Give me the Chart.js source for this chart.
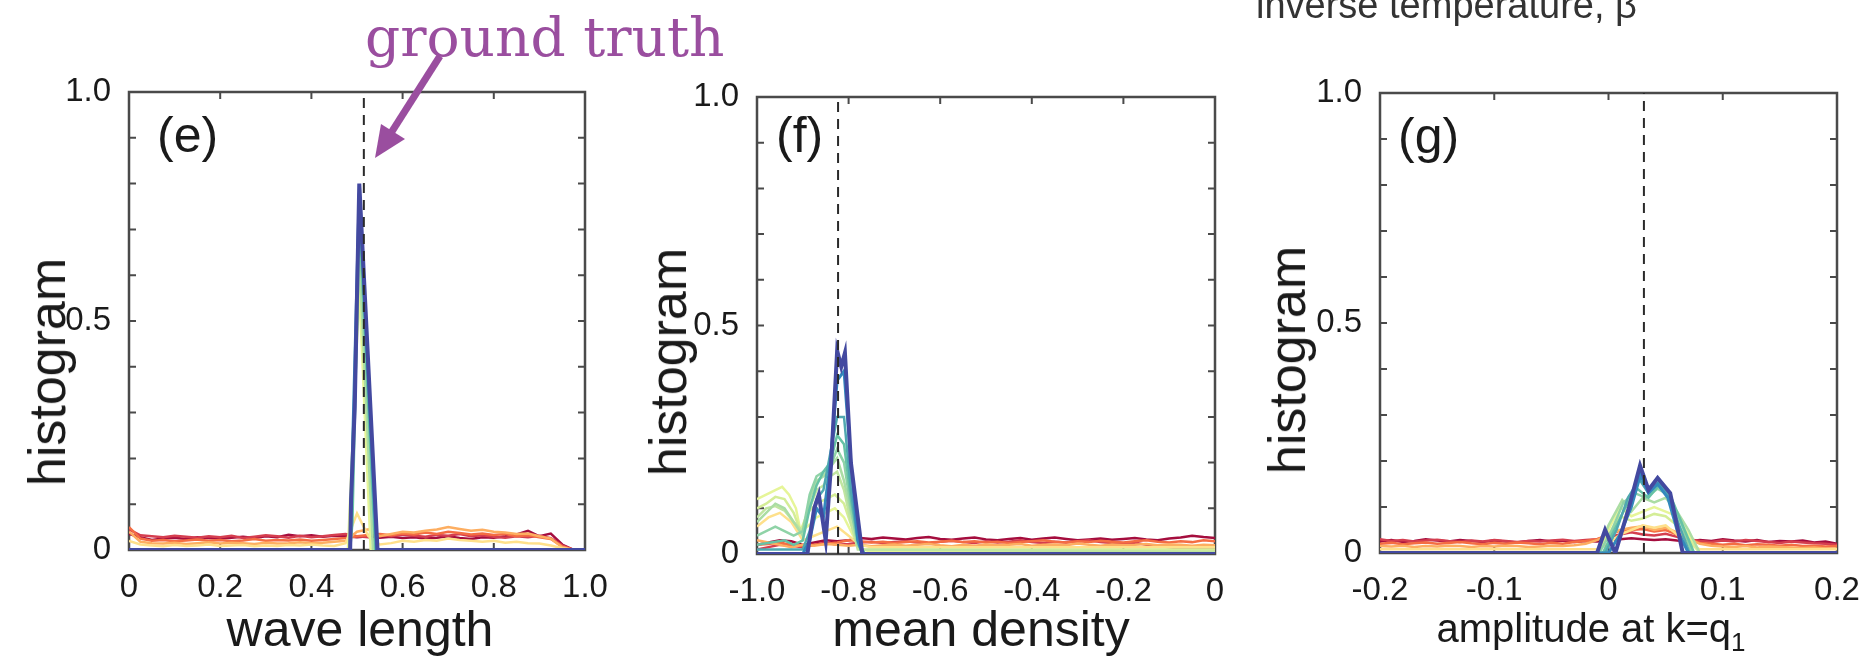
<!DOCTYPE html>
<html><head><meta charset="utf-8">
<script src="https://cdn.jsdelivr.net/npm/chart.js@4.4.0/dist/chart.umd.min.js"></script>
<style>
html,body{margin:0;padding:0;background:#fff;width:1876px;height:659px;overflow:hidden;}
#wrap{position:relative;width:1876px;height:659px;}
canvas{position:absolute;top:0;}
.t{position:absolute;white-space:nowrap;font-family:"Liberation Sans",Arial,sans-serif;color:#1a1a1a;line-height:1;}
.c{transform:translateX(-50%);}
.r{transform:translate(-50%,-50%) rotate(-90deg);}
svg{position:absolute;left:0;top:0;}
</style></head>
<body><div id="wrap">
<canvas id="ce" width="620" height="659" style="left:0px"></canvas>
<canvas id="cf" width="600" height="659" style="left:640px"></canvas>
<canvas id="cg" width="616" height="659" style="left:1260px"></canvas>

<div class="t" style="left:1256px;top:-14px;font-size:38px;color:#333;">inverse temperature, β</div>
<div class="t" style="left:365px;top:10px;font-size:55px;font-family:'DejaVu Serif',serif;color:#9a4e9f;">ground truth</div>

<div class="t" style="left:157px;top:110px;font-size:50px;">(e)</div>
<div class="t" style="left:776px;top:110px;font-size:50px;">(f)</div>
<div class="t" style="left:1398px;top:111px;font-size:50px;">(g)</div>

<div class="t r" style="left:47px;top:372px;font-size:52px;">histogram</div>
<div class="t r" style="left:668px;top:362px;font-size:52px;">histogram</div>
<div class="t r" style="left:1287px;top:360px;font-size:52px;">histogram</div>

<div class="t c" style="left:360px;top:604px;font-size:50px;">wave length</div>
<div class="t c" style="left:981px;top:604px;font-size:50px;">mean density</div>
<div class="t c" style="left:1591px;top:608px;font-size:40px;">amplitude at k=q<span style="font-size:0.65em;position:relative;top:0.35em;">1</span></div>

<svg width="1876" height="659">
  <line x1="440" y1="56" x2="391" y2="133" stroke="#9a4e9f" stroke-width="7"/>
  <polygon points="375,158 381,124 405,139" fill="#9a4e9f"/>
</svg>
</div>
<script>
// ---------- shared ----------
const C = {
  dred: '#a50d3e', red: '#d53e4f', orng: '#f46d43', lorg: '#fdae61', yel: '#fee08b',
  pale: '#e6f598', ygrn: '#d4ed97', lgrn2: '#c0e5a0', lgrn: '#abdda4', mgrn: '#8fd3a7',
  teal: '#66c2a5', cyan: '#4fa8b0', blue: '#3288bd', navy: '#4349a0'
};
const Y_LABELS = ['0','','','','','0.5','','','','','1.0'];

// ---------- panel (e): wave length ----------
const E_TICKS = ['0','0.2','0.4','0.6','0.8','1.0'];
const E_TRUTH = 0.515;
const E_X = [0,0.025,0.05,0.075,0.1,0.125,0.15,0.175,0.2,0.225,0.25,0.275,0.3,0.325,0.35,0.375,0.4,0.425,0.45,0.475,0.5,0.525,0.55,0.575,0.6,0.625,0.65,0.675,0.7,0.725,0.75,0.775,0.8,0.825,0.85,0.875,0.9,0.925,0.95,0.975,1.0];
const E_N0 = [0.035,0.028,0.022,0.025,0.027,0.024,0.028,0.026,0.025,0.027,0.029,0.026,0.03,0.028,0.033,0.03,0.032,0.029,0.031,0.03,0.028,0.03,0.027,0.029,0.026,0.028,0.025,0.027,0.03,0.026,0.024,0.028,0.027,0.03,0.034,0.042,0.03,0.036,0.012,0,0];
const E_N1 = [0.045,0.032,0.03,0.028,0.031,0.029,0.027,0.03,0.028,0.031,0.026,0.029,0.032,0.03,0.027,0.031,0.028,0.03,0.033,0.035,0.03,0.028,0.032,0.03,0.034,0.031,0.029,0.033,0.031,0.035,0.03,0.032,0.029,0.027,0.03,0.028,0.031,0.026,0.01,0,0];
const E_N2 = [0.05,0.025,0.02,0.022,0.019,0.021,0.023,0.02,0.022,0.019,0.021,0.024,0.02,0.022,0.021,0.023,0.02,0.022,0.024,0.026,0.03,0.033,0.035,0.032,0.036,0.034,0.038,0.035,0.04,0.037,0.034,0.036,0.033,0.035,0.03,0.032,0.028,0.024,0.008,0,0];
const E_N3 = [0.04,0.018,0.015,0.014,0.016,0.013,0.015,0.017,0.014,0.016,0.015,0.013,0.016,0.014,0.015,0.017,0.015,0.016,0.018,0.02,0.04,0.045,0.03,0.035,0.04,0.038,0.042,0.045,0.05,0.046,0.042,0.044,0.04,0.038,0.035,0.036,0.03,0.025,0.006,0,0];
const E_N4 = [0.02,0.012,0.01,0.008,0.011,0.009,0.01,0.012,0.009,0.01,0.011,0.008,0.01,0.009,0.011,0.01,0.012,0.01,0.009,0.015,0.08,0.03,0.012,0.015,0.02,0.018,0.022,0.02,0.025,0.022,0.02,0.018,0.02,0.016,0.018,0.015,0.014,0.01,0.004,0,0];
const E_P5_X = [0,0.48,0.505,0.53,1.0];             const E_P5_Y = [0,0,0.57,0,0];
const E_P6_X = [0,0.485,0.505,0.535,1.0];           const E_P6_Y = [0,0,0.64,0,0];
const E_P7_X = [0,0.485,0.49,0.505,0.54,1.0];       const E_P7_Y = [0,0,0.06,0.72,0,0];
const E_P8_X = [0,0.485,0.487,0.505,0.543,1.0];     const E_P8_Y = [0,0,0.1,0.78,0,0];
const E_P9_X = [0,0.485,0.487,0.495,0.505,0.545,1.0]; const E_P9_Y = [0,0,0.11,0.31,0.8,0,0];

// ---------- panel (f): mean density ----------
const F_TICKS = ['-1.0','-0.8','-0.6','-0.4','-0.2','0'];
const F_TRUTH = -0.823;
const F_X = [-1,-0.975,-0.95,-0.925,-0.9,-0.875,-0.85,-0.825,-0.8,-0.775,-0.75,-0.725,-0.7,-0.675,-0.65,-0.625,-0.6,-0.575,-0.55,-0.525,-0.5,-0.475,-0.45,-0.425,-0.4,-0.375,-0.35,-0.325,-0.3,-0.275,-0.25,-0.225,-0.2,-0.175,-0.15,-0.125,-0.1,-0.075,-0.05,-0.025,0];
const F_N0 = [0.02,0.025,0.03,0.028,0.02,0.025,0.03,0.028,0.03,0.035,0.033,0.036,0.034,0.032,0.035,0.037,0.033,0.031,0.034,0.036,0.032,0.03,0.033,0.035,0.031,0.034,0.036,0.033,0.03,0.032,0.034,0.031,0.033,0.035,0.032,0.03,0.034,0.036,0.04,0.037,0.035];
const F_N1 = [0.01,0.015,0.02,0.018,0.015,0.02,0.025,0.02,0.022,0.025,0.027,0.024,0.026,0.028,0.025,0.023,0.027,0.029,0.026,0.024,0.028,0.025,0.027,0.03,0.026,0.024,0.027,0.025,0.028,0.03,0.026,0.024,0.022,0.025,0.02,0.018,0.015,0.012,0.014,0.012,0.01];
const F_N2 = [0.02,0.022,0.025,0.02,0.018,0.02,0.022,0.025,0.03,0.028,0.025,0.027,0.024,0.026,0.028,0.025,0.027,0.029,0.026,0.028,0.025,0.027,0.024,0.026,0.028,0.03,0.027,0.025,0.028,0.026,0.029,0.027,0.025,0.028,0.03,0.027,0.025,0.028,0.026,0.03,0.028];
const F_N3 = [0.03,0.025,0.02,0.015,0.02,0.018,0.022,0.02,0.018,0.02,0.017,0.019,0.021,0.018,0.02,0.022,0.019,0.017,0.02,0.018,0.021,0.019,0.02,0.022,0.018,0.02,0.021,0.019,0.023,0.02,0.018,0.021,0.019,0.02,0.022,0.019,0.021,0.02,0.018,0.02,0.019];
const F_P4_X = [-1,-0.975,-0.95,-0.925,-0.9,-0.875,-0.85,-0.825,-0.8,-0.775,-0.75,0];
const F_P4_Y = [0.06,0.08,0.09,0.07,0.03,0.04,0.05,0.06,0.04,0.02,0.015,0.015];
const F_P5_X = [-1,-0.98,-0.96,-0.945,-0.93,-0.915,-0.905,-0.89,-0.87,-0.85,-0.83,-0.81,-0.79,-0.77,-0.75,0];
const F_P5_Y = [0.12,0.13,0.14,0.147,0.13,0.1,0.05,0.06,0.08,0.09,0.1,0.08,0.04,0.01,0.005,0.005];
const F_Q1_X = [-1,-0.98,-0.96,-0.94,-0.92,-0.905,-0.89,-0.87,-0.85,-0.83,-0.81,-0.79,-0.775,0];
const F_Q1_Y = [0.1,0.11,0.125,0.12,0.09,0.05,0.09,0.11,0.12,0.13,0.11,0.05,0.01,0.01];
const F_Q2_X = [-1,-0.98,-0.96,-0.94,-0.92,-0.9,-0.885,-0.87,-0.855,-0.84,-0.825,-0.81,-0.795,-0.78,0];
const F_Q2_Y = [0.08,0.1,0.105,0.095,0.07,0.05,0.1,0.14,0.15,0.17,0.18,0.14,0.07,0.01,0.005];
const F_P6_X = [-1,-0.98,-0.96,-0.94,-0.92,-0.9,-0.885,-0.87,-0.855,-0.84,-0.825,-0.81,-0.795,-0.78,-0.765,0];
const F_P6_Y = [0.07,0.09,0.11,0.1,0.07,0.04,0.12,0.16,0.17,0.19,0.21,0.16,0.09,0.03,0,0];
const F_Q3_X = [-1,-0.96,-0.94,-0.92,-0.9,-0.885,-0.87,-0.855,-0.84,-0.825,-0.81,-0.795,-0.78,-0.765,0];
const F_Q3_Y = [0.04,0.06,0.05,0.04,0.05,0.13,0.17,0.18,0.19,0.23,0.2,0.1,0.02,0,0];
const F_P7_X = [-1,-0.94,-0.92,-0.9,-0.885,-0.87,-0.855,-0.84,-0.825,-0.81,-0.795,-0.78,-0.765,0];
const F_P7_Y = [0.02,0.03,0.02,0.03,0.1,0.15,0.18,0.2,0.26,0.24,0.12,0.03,0,0];
const F_Q4_X = [-1,-0.9,-0.885,-0.87,-0.855,-0.84,-0.825,-0.81,-0.795,-0.78,-0.765,0];
const F_Q4_Y = [0.01,0.01,0.05,0.12,0.14,0.22,0.3,0.3,0.14,0.03,0,0];
const F_P8_X = [-1,-0.9,-0.885,-0.87,-0.855,-0.84,-0.825,-0.81,-0.795,-0.78,-0.77,0];
const F_P8_Y = [0,0,0.03,0.1,0.08,0.2,0.38,0.4,0.2,0.03,0,0];
const F_P9_X = [-1,-0.89,-0.875,-0.865,-0.85,-0.838,-0.825,-0.816,-0.808,-0.795,-0.77,0];
const F_P9_Y = [0,0,0.1,0.13,0.03,0.2,0.445,0.41,0.44,0.2,0,0];

// ---------- panel (g): amplitude at k=q1 ----------
const G_TICKS = ['-0.2','-0.1','0','0.1','0.2'];
const G_TRUTH = 0.031;
const G_X = [-0.2,-0.19,-0.18,-0.17,-0.16,-0.15,-0.14,-0.13,-0.12,-0.11,-0.1,-0.09,-0.08,-0.07,-0.06,-0.05,-0.04,-0.03,-0.02,-0.01,0,0.01,0.02,0.03,0.04,0.05,0.06,0.07,0.08,0.09,0.1,0.11,0.12,0.13,0.14,0.15,0.16,0.17,0.18,0.19,0.2];
const G_N0 = [0.025,0.028,0.024,0.026,0.03,0.027,0.025,0.028,0.026,0.024,0.027,0.025,0.023,0.026,0.028,0.025,0.027,0.024,0.026,0.025,0.028,0.03,0.032,0.03,0.028,0.03,0.027,0.025,0.028,0.026,0.03,0.027,0.025,0.028,0.024,0.026,0.025,0.027,0.023,0.025,0.02];
const G_N1 = [0.03,0.026,0.028,0.025,0.027,0.029,0.026,0.024,0.027,0.025,0.028,0.026,0.024,0.026,0.025,0.027,0.029,0.026,0.028,0.03,0.035,0.04,0.045,0.04,0.038,0.042,0.035,0.03,0.026,0.024,0.027,0.025,0.028,0.026,0.024,0.022,0.025,0.023,0.021,0.02,0.018];
const G_N2 = [0.02,0.022,0.019,0.021,0.023,0.02,0.022,0.024,0.021,0.019,0.022,0.02,0.023,0.021,0.019,0.022,0.02,0.024,0.026,0.03,0.04,0.048,0.05,0.052,0.047,0.05,0.04,0.03,0.022,0.02,0.018,0.02,0.017,0.019,0.018,0.016,0.018,0.015,0.016,0.014,0.015];
const G_N3 = [0.015,0.014,0.016,0.013,0.015,0.014,0.016,0.015,0.013,0.015,0.014,0.016,0.015,0.013,0.014,0.016,0.015,0.017,0.02,0.028,0.04,0.05,0.055,0.058,0.05,0.055,0.045,0.03,0.02,0.016,0.014,0.013,0.015,0.012,0.014,0.013,0.012,0.011,0.012,0.01,0.01];
const G_P4_X = [-0.2,-0.01,0,0.01,0.02,0.03,0.04,0.05,0.06,0.07,0.08,0.2];
const G_P4_Y = [0.008,0.008,0.02,0.04,0.05,0.06,0.055,0.06,0.04,0.02,0.008,0.008];
const G_P5_X = [-0.2,-0.01,0,0.01,0.02,0.03,0.04,0.05,0.06,0.07,0.08,0.2];
const G_P5_Y = [0,0,0.05,0.1,0.08,0.09,0.1,0.09,0.08,0.04,0,0];
const G_Q1_X = [-0.2,-0.01,0,0.01,0.02,0.03,0.04,0.05,0.06,0.07,0.08,0.2];
const G_Q1_Y = [0,0,0.04,0.08,0.07,0.075,0.085,0.08,0.06,0.03,0,0];
const G_P6_X = [-0.2,-0.01,0,0.012,0.02,0.03,0.04,0.05,0.06,0.07,0.08,0.2];
const G_P6_Y = [0,0,0.06,0.115,0.09,0.12,0.11,0.12,0.09,0.05,0,0];
const G_Q3_X = [-0.2,-0.008,0.003,0.013,0.023,0.033,0.043,0.053,0.063,0.073,0.2];
const G_Q3_Y = [0,0,0.05,0.11,0.13,0.12,0.14,0.125,0.07,0,0];
const G_P7_X = [-0.2,-0.005,0.005,0.015,0.025,0.035,0.045,0.055,0.065,0.075,0.2];
const G_P7_Y = [0,0,0.05,0.1,0.14,0.12,0.15,0.12,0.06,0,0];
const G_Q4_X = [-0.2,-0.003,0.007,0.017,0.027,0.035,0.044,0.053,0.062,0.071,0.2];
const G_Q4_Y = [0,0,0.05,0.12,0.16,0.13,0.155,0.12,0.06,0,0];
const G_P8_X = [-0.2,0,0.01,0.02,0.028,0.035,0.043,0.052,0.06,0.07,0.2];
const G_P8_Y = [0,0,0.04,0.1,0.17,0.13,0.15,0.12,0.05,0,0];
const G_P9_X = [-0.2,-0.01,-0.003,0.006,0.018,0.0276,0.035,0.043,0.054,0.065,0.2];
const G_P9_Y = [0,0,0.05,0,0.1,0.19,0.137,0.163,0.13,0,0];

// ---------- drawing ----------
const FONT = '"Liberation Sans", Arial, sans-serif';

const boxPlugin = {
  id: 'box',
  beforeDatasetsDraw(chart) {
    const {ctx, chartArea: a, scales: {x, y}} = chart;
    ctx.save();
    ctx.strokeStyle = '#4a4a4a';
    ctx.lineWidth = 2;
    ctx.beginPath();
    y.ticks.forEach(t => {
      const p = y.getPixelForValue(t.value);
      ctx.moveTo(a.left, p); ctx.lineTo(a.left + 7, p);
      ctx.moveTo(a.right, p); ctx.lineTo(a.right - 7, p);
    });
    x.ticks.forEach(t => {
      const p = x.getPixelForValue(t.value);
      ctx.moveTo(p, a.bottom); ctx.lineTo(p, a.bottom - 7);
      ctx.moveTo(p, a.top); ctx.lineTo(p, a.top + 7);
    });
    ctx.stroke();
    ctx.lineWidth = 2.5;
    ctx.strokeRect(a.left, a.top, a.right - a.left, a.bottom - a.top);
    ctx.restore();
  }
};

function pts(xs, ys) { return xs.map((x, i) => ({x: x, y: ys[i]})); }

function makeChart(id, p) {
  const n = p.series.length;
  const ds = p.series.map((s, i) => ({
    data: pts(s[0], s[1]),
    borderColor: s[2],
    borderWidth: s[3],
    pointRadius: 0,
    tension: 0,
    fill: false,
    order: n + 1 - i
  }));
  ds.push({
    data: [{x: p.truth, y: 0}, {x: p.truth, y: 1}],
    borderColor: '#2a2a2a', borderWidth: 2, borderDash: [10, 7],
    pointRadius: 0, order: 0
  });
  new Chart(document.getElementById(id), {
    type: 'line',
    data: {datasets: ds},
    plugins: [boxPlugin],
    options: {
      responsive: false, animation: false, devicePixelRatio: 1,
      layout: {padding: {top: p.top, right: p.right, left: 0, bottom: 0}},
      plugins: {legend: {display: false}, tooltip: {enabled: false}},
      scales: {
        x: {
          type: 'linear', min: p.xmin, max: p.xmax,
          grid: {display: false}, border: {display: false},
          afterFit: s => { s.height = p.xh; },
          ticks: {
            stepSize: p.step, autoSkip: false, maxRotation: 0, padding: 10,
            color: '#1a1a1a', font: {family: FONT, size: 33},
            callback: (v, i) => p.ticks[i]
          }
        },
        y: {
          min: 0, max: 1,
          grid: {display: false}, border: {display: false},
          afterFit: s => { s.width = p.yw; },
          ticks: {
            stepSize: 0.1, autoSkip: false, padding: 10,
            color: '#1a1a1a', font: {family: FONT, size: 33},
            callback: (v) => Y_LABELS[Math.round(v * 10)]
          }
        }
      }
    }
  });
}

makeChart('ce', {
  xmin: 0, xmax: 1, step: 0.2, ticks: E_TICKS, truth: E_TRUTH,
  top: 92, right: 35, yw: 129, xh: 109,
  series: [[E_X, E_N0, C.dred, 2.5], [E_X, E_N1, C.red, 2.5], [E_X, E_N2, C.orng, 2.5], [E_X, E_N3, C.lorg, 2.5], [E_X, E_N4, C.yel, 2.5],
           [E_P5_X, E_P5_Y, C.pale, 2.5], [E_P6_X, E_P6_Y, C.lgrn, 2.5], [E_P7_X, E_P7_Y, C.teal, 2.5], [E_P8_X, E_P8_Y, C.blue, 3], [E_P9_X, E_P9_Y, C.navy, 4]]
});
makeChart('cf', {
  xmin: -1, xmax: 0, step: 0.2, ticks: F_TICKS, truth: F_TRUTH,
  top: 97, right: 25, yw: 117, xh: 105,
  series: [[F_X, F_N0, C.dred, 2.5], [F_X, F_N1, C.red, 2.5], [F_X, F_N2, C.orng, 2.5], [F_X, F_N3, C.lorg, 2.5],
           [F_P4_X, F_P4_Y, C.yel, 2.5], [F_P5_X, F_P5_Y, C.pale, 2.5], [F_Q1_X, F_Q1_Y, C.ygrn, 2.5], [F_Q2_X, F_Q2_Y, C.lgrn2, 2.5],
           [F_P6_X, F_P6_Y, C.lgrn, 2.5], [F_Q3_X, F_Q3_Y, C.mgrn, 2.5], [F_P7_X, F_P7_Y, C.teal, 2.5], [F_Q4_X, F_Q4_Y, C.cyan, 2.5],
           [F_P8_X, F_P8_Y, C.blue, 3], [F_P9_X, F_P9_Y, C.navy, 4]]
});
makeChart('cg', {
  xmin: -0.2, xmax: 0.2, step: 0.1, ticks: G_TICKS, truth: G_TRUTH,
  top: 93, right: 39, yw: 120, xh: 106,
  series: [[G_X, G_N0, C.dred, 2.5], [G_X, G_N1, C.red, 2.5], [G_X, G_N2, C.orng, 2.5], [G_X, G_N3, C.lorg, 2.5],
           [G_P4_X, G_P4_Y, C.yel, 2.5], [G_P5_X, G_P5_Y, C.pale, 2.5], [G_Q1_X, G_Q1_Y, C.ygrn, 2.5], [G_P6_X, G_P6_Y, C.lgrn, 2.5],
           [G_Q3_X, G_Q3_Y, C.mgrn, 2.5], [G_P7_X, G_P7_Y, C.teal, 2.5], [G_Q4_X, G_Q4_Y, C.cyan, 2.5],
           [G_P8_X, G_P8_Y, C.blue, 3], [G_P9_X, G_P9_Y, C.navy, 4]]
});
</script>
</body></html>
